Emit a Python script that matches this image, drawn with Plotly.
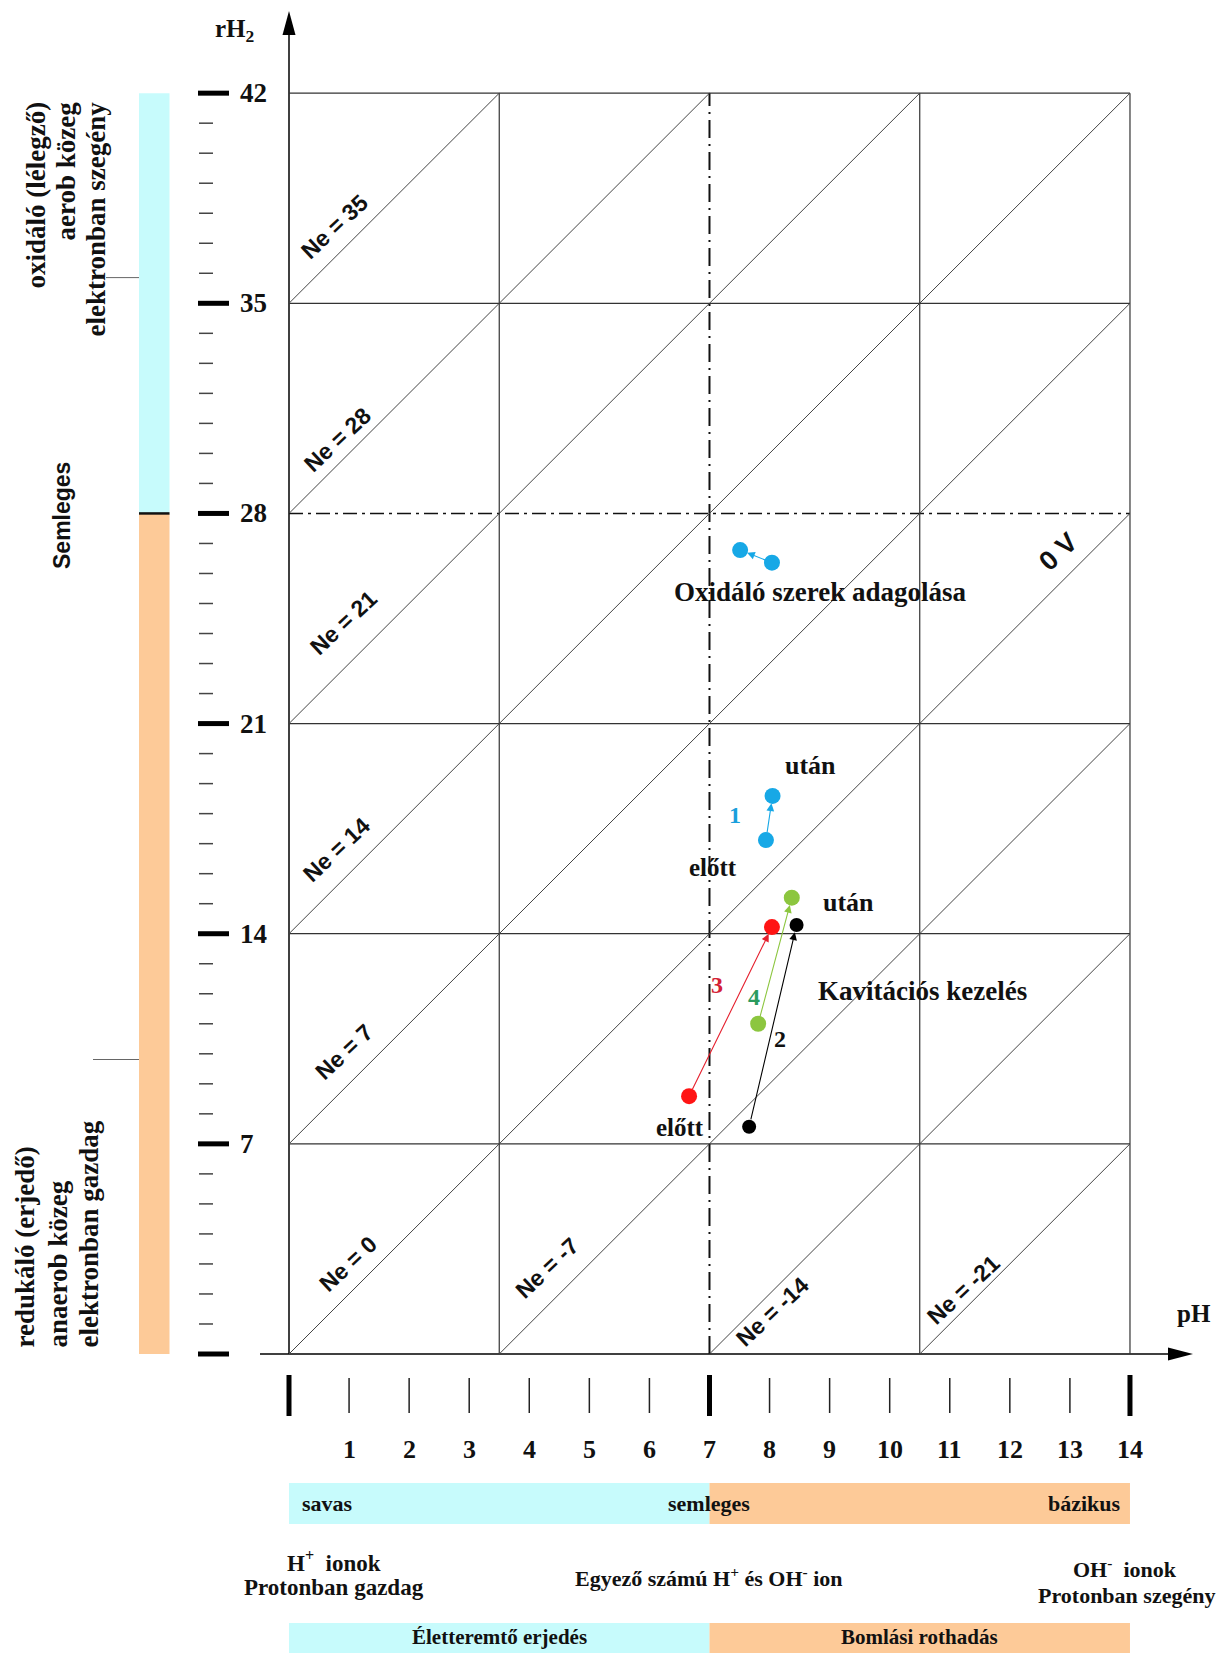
import plotly.graph_objects as go

PAGE_W, PAGE_H = 1230, 1661
OFF = 8                       # default body margin of the html page
W, H = PAGE_W - 2 * OFF, PAGE_H - 2 * OFF
# pixel calibration of the drawing in page coordinates (layout only)
X0, SX = 289.0, 60.07   # px of pH 0, px per pH unit
Y0, SY = 1354.0, 30.02  # px of rH2 0, px per rH2 unit


def dx(px):
    return (px - X0) / SX


def dy(py):
    return (Y0 - py) / SY


# ---------------- data ----------------
ph_ticks = list(range(0, 15))
ph_tick_labels = [""] + [str(i) for i in range(1, 15)]
rh_major = [0, 7, 14, 21, 28, 35, 42]
rh_major_labels = ["", "7", "14", "21", "28", "35", "42"]
rh_minor = [v for v in range(0, 43) if v % 7]
grid_ph = [0, 3.5, 7, 10.5, 14]
grid_rh = [0, 7, 14, 21, 28, 35, 42]
ne_values = [35, 28, 21, 14, 7, 0, -7, -14, -21]
ne_labels = ["Ne = 35", "Ne = 28", "Ne = 21", "Ne = 14", "Ne = 7", "Ne = 0",
             "Ne = -7", "Ne = -14", "Ne = -21"]

series_names = ["oxid", "1", "2", "3", "4"]
ph_before = [8.04, 7.94, 7.66, 6.66, 7.81]
rh_before = [26.36, 17.12, 7.57, 8.59, 11.00]
ph_after = [7.51, 8.05, 8.45, 8.04, 8.37]
rh_after = [26.78, 18.59, 14.29, 14.22, 15.20]
series_colors = ["#17a8e6", "#17a8e6", "#000000", "#ff1414", "#8cc63f"]
arrow_colors = ["#17a8e6", "#17a8e6", "#000000", "#e5202e", "#8cc63f"]
marker_sizes = [16, 16, 14, 16, 16]

# ---------------- styles ----------------
SERIF = "Liberation Serif, Times New Roman, serif"
SANS = "Liberation Sans, Arial, sans-serif"
CYAN = "#c7fbfc"
ORANGE = "#fdca98"
INK = "#111111"

fig = go.Figure()
shapes = []
annots = []


def line(x0, y0, x1, y1, color="#333333", width=1.0, dash="solid", layer="below"):
    shapes.append(dict(type="line", xref="x", yref="y", x0=x0, y0=y0, x1=x1, y1=y1,
                       line=dict(color=color, width=width, dash=dash), layer=layer))


def rect(x0, y0, x1, y1, color):
    shapes.append(dict(type="rect", xref="x", yref="y", x0=x0, y0=y0, x1=x1, y1=y1,
                       fillcolor=color, line=dict(width=0), layer="below"))


def text(t, x, y, size, family=SERIF, color=INK, angle=0, xanchor="center",
         yanchor="middle", weight="bold"):
    annots.append(dict(text=t, x=x, y=y, xref="x", yref="y", showarrow=False,
                       textangle=angle, xanchor=xanchor, yanchor=yanchor,
                       font=dict(family=family, size=size, color=color, weight=weight)))


# ---- left side colour bars ----
rect(dx(139), 28, dx(169.5), 42, CYAN)
rect(dx(139), 0, dx(169.5), 28, ORANGE)
line(dx(139), 28, dx(169.5), 28, color="#111111", width=2.5)
line(dx(106), dy(277.6), dx(139), dy(277.6), color="#666666", width=1)
line(dx(93), dy(1059.5), dx(139), dy(1059.5), color="#666666", width=1)

# left rotated texts (upper group aligned at top, lower group aligned at bottom)
for t, xp in [("oxidáló (lélegző)", 35), ("aerob közeg", 65), ("elektronban szegény", 95)]:
    text(t, dx(xp), dy(100), 27, angle=-90, yanchor="top")
text("Semleges", dx(62), dy(516), 23, family=SANS, angle=-90)
for t, xp in [("redukáló (erjedő)", 24), ("anaerob közeg", 57), ("elektronban gazdag", 88)]:
    text(t, dx(xp), dy(1350), 27, angle=-90, yanchor="bottom")

# ---- rH2 ticks ----
for v, lab in zip(rh_major, rh_major_labels):
    line(dx(198), v, dx(229), v, color="#000000", width=5)
    if lab:
        text(lab, dx(238), v, 27, xanchor="left")
for v in rh_minor:
    line(dx(199), v, dx(213), v, color="#444444", width=1.5)

# ---- axes with arrows ----
line(0, 0, 0, dy(30), color="#000000", width=1.5)
shapes.append(dict(type="path", xref="x", yref="y",
                   path=f"M {0},{dy(11)} L {dx(282.5)},{dy(35)} L {dx(295.5)},{dy(35)} Z",
                   fillcolor="#000000", line=dict(width=0)))
line(dx(260), 0, dx(1172), 0, color="#000000", width=1.5)
shapes.append(dict(type="path", xref="x", yref="y",
                   path=f"M {dx(1193)},{0} L {dx(1168)},{dy(1347.5)} L {dx(1168)},{dy(1360.5)} Z",
                   fillcolor="#000000", line=dict(width=0)))
text("rH<sub>2</sub>", dx(234), dy(30), 25)
text("pH", dx(1194), dy(1313), 25)

# ---- grid ----
for r in grid_rh:
    if r == 0:
        continue
    if r == 28:
        line(0, r, 14, r, color="#111111", width=1.6, dash="14px,5px,3px,5px")
    else:
        line(0, r, 14, r, color="#333333", width=1.2)
for p in grid_ph:
    if p == 0:
        continue
    if p == 7:
        line(p, 0, p, 42, color="#111111", width=2, dash="18px,6px,2px,6px")
    else:
        line(p, 0, p, 42, color="#333333", width=1.2)

# ---- Ne diagonals: rH2 = 2 pH + Ne ----
for ne in ne_values:
    p0 = max(0.0, -ne / 2.0)
    p1 = min(14.0, (42 - ne) / 2.0)
    line(p0, 2 * p0 + ne, p1, 2 * p1 + ne, color="#444444", width=1)

ne_label_px = [(334, 227), (337, 440), (343, 623), (336, 850), (344, 1052), (348, 1264),
               (547, 1268), (772, 1312), (963, 1290)]
for lab, (xp, yp) in zip(ne_labels, ne_label_px):
    text(lab, dx(xp), dy(yp), 23, family=SANS, angle=-43)
text("0 V", dx(1058), dy(552), 27, family=SANS, angle=-43)

# ---- pH ticks ----
for p, lab in zip(ph_ticks, ph_tick_labels):
    if p in (0, 7, 14):
        line(p, dy(1375), p, dy(1416), color="#000000", width=5)
    else:
        line(p, dy(1378), p, dy(1413), color="#222222", width=1.5)
    if lab:
        text(lab, p, dy(1449), 26)

# ---- bottom bands ----
rect(0, dy(1524), 7, dy(1483), CYAN)
rect(7, dy(1524), 14, dy(1483), ORANGE)
text("savas", dx(300), dy(1503), 22, xanchor="left")
text("semleges", 7, dy(1503), 22)
text("bázikus", dx(1123), dy(1503), 22, xanchor="right")

text("H<sup>+</sup>&nbsp; ionok", dx(334), dy(1561), 23)
text("Protonban gazdag", dx(334), dy(1587), 23)
text("Egyező számú H<sup>+</sup> és OH<sup>-</sup> ion", dx(709), dy(1577), 22)
text("OH<sup>-</sup>&nbsp; ionok", dx(1125), dy(1568), 22)
text("Protonban szegény", dx(1126), dy(1595), 22)

rect(0, dy(1661), 7, dy(1623), CYAN)
rect(7, dy(1661), 14, dy(1623), ORANGE)
text("Életteremtő erjedés", 3.5, dy(1637), 21)
text("Bomlási rothadás", 10.5, dy(1637), 21)

# ---- measured points and arrows ----
for i, name in enumerate(series_names):
    fig.add_trace(go.Scatter(
        x=[ph_before[i], ph_after[i]], y=[rh_before[i], rh_after[i]],
        mode="markers", name=name, cliponaxis=False, hoverinfo="skip",
        marker=dict(size=marker_sizes[i], color=series_colors[i], line=dict(width=0))))
    annots.append(dict(x=ph_after[i], y=rh_after[i], ax=ph_before[i], ay=rh_before[i],
                       xref="x", yref="y", axref="x", ayref="y", text="",
                       showarrow=True, arrowhead=2, arrowsize=1.4, arrowwidth=1.1,
                       arrowcolor=arrow_colors[i], standoff=7.5, startstandoff=6))

# ---- chart texts ----
text("Oxidáló szerek adagolása", dx(820), dy(592), 27)
text("után", dx(810), dy(765), 26)
text("után", dx(848), dy(902), 26)
text("előtt", dx(713), dy(867), 25)
text("előtt", dx(680), dy(1127), 25)
text("Kavitációs kezelés", dx(922), dy(991), 27)
text("1", dx(735), dy(815), 24, color="#1a9fdc")
text("3", dx(717), dy(985), 24, color="#d42035")
text("4", dx(754), dy(997), 24, color="#2a9b5e")
text("2", dx(780), dy(1039), 24, color=INK)

fig.update_layout(
    width=W, height=H, margin=dict(l=0, r=0, t=0, b=0),
    paper_bgcolor="white", plot_bgcolor="white", showlegend=False,
    xaxis=dict(range=[dx(OFF), dx(OFF + W)], visible=False, fixedrange=True),
    yaxis=dict(range=[dy(OFF + H), dy(OFF)], visible=False, fixedrange=True),
    shapes=shapes, annotations=annots,
)

fig.write_html("out.html", config={"displayModeBar": False})
